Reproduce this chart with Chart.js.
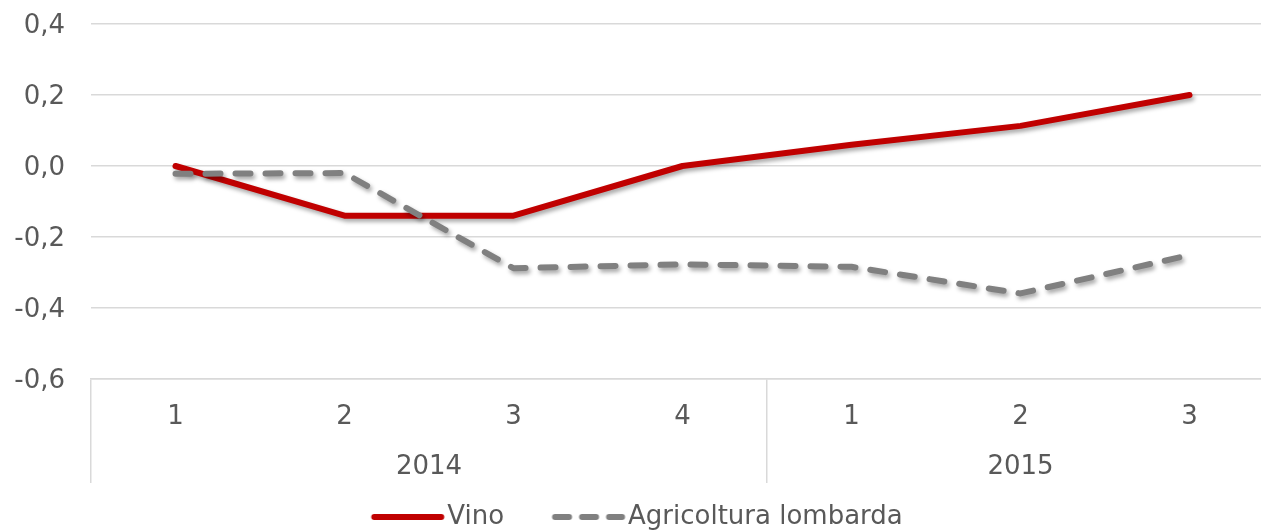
<!DOCTYPE html>
<html>
<head>
<meta charset="utf-8">
<script src="https://cdn.jsdelivr.net/npm/chart.js@4/dist/chart.umd.min.js"></script>
<style>
  html, body { margin: 0; padding: 0; overflow: hidden; background: #ffffff; }
  #wrap { width: 1274px; height: 532px; position: relative; }
</style>
</head>
<body>
<div id="wrap"><canvas id="c"></canvas></div>
<script>
// ---- data ----
const quarterLabels = ['1', '2', '3', '4', '1', '2', '3'];
const yearLabels = ['2014', '2015'];
const yearCounts = [4, 3];
const vino = [0.0, -0.14, -0.14, 0.0, 0.06, 0.113, 0.2];
const agricoltura = [-0.022, -0.02, -0.288, -0.277, -0.284, -0.359, -0.251];
const yTicks = [-0.6, -0.4, -0.2, 0.0, 0.2, 0.4];
const seriesNames = ['Vino', 'Agricoltura lombarda'];

// ---- derived axis positions (from the category groups) ----
const yearCenters = [];
const boundaries = [-0.5];
let start = 0;
yearCounts.forEach((n) => {
  yearCenters.push(start + (n - 1) / 2);
  start += n;
  boundaries.push(start - 0.5);
});
const xTickValues = Array.from(new Set([
  ...boundaries,
  ...quarterLabels.map((_, i) => i),
  ...yearCenters
])).sort((a, b) => a - b);

const TEXT = '#595959';
const GRID = '#d9d9d9';
const FONT = 'DejaVu Sans, Verdana, sans-serif';
const RED = '#c00000';
const GREY = '#808080';
const LINE_W = 6;
const BOX_W = 63;

// legend sample glyphs (line swatches), drawn slightly wider than the legend box
function swatch(color, dash) {
  const cv = document.createElement('canvas');
  cv.width = 100; cv.height = 12;
  const off = cv.width / 2 - BOX_W / 2;
  const g = cv.getContext('2d');
  g.strokeStyle = color; g.lineWidth = LINE_W; g.lineCap = 'round';
  g.setLineDash(dash);
  g.beginPath(); g.moveTo(off + 3, 6); g.lineTo(off + 70, 6); g.stroke();
  return cv;
}

const shadowPlugin = {
  id: 'lineShadow',
  beforeDatasetDraw(chart) {
    const c = chart.ctx;
    c.save();
    c.shadowColor = 'rgba(0,0,0,0.35)';
    c.shadowBlur = 4;
    c.shadowOffsetX = 2;
    c.shadowOffsetY = 3;
  },
  afterDatasetDraw(chart) { chart.ctx.restore(); }
};

const legendFit = {
  id: 'legendFit',
  beforeInit(chart) {
    const lg = chart.legend;
    if (!lg) return;
    const orig = lg.fit;
    lg.fit = function () { orig.call(this); this.height = 56; };
  },
  afterLayout(chart) {
    const lg = chart.legend;
    if (!lg) return;
    lg.top -= 20;   // pull the legend row up; keep its bottom at the canvas edge
  }
};

new Chart(document.getElementById('c'), {
  type: 'line',
  data: {
    datasets: [
      {
        label: seriesNames[0],
        data: vino.map((v, i) => ({ x: i, y: v })),
        borderColor: RED,
        backgroundColor: RED,
        borderWidth: LINE_W,
        borderCapStyle: 'round',
        borderJoinStyle: 'round',
        pointRadius: 0,
        pointStyle: swatch(RED, []),
        tension: 0,
        order: 1
      },
      {
        label: seriesNames[1],
        data: agricoltura.map((v, i) => ({ x: i, y: v })),
        borderColor: GREY,
        backgroundColor: GREY,
        borderWidth: LINE_W,
        borderDash: [15, 15],
        borderCapStyle: 'round',
        borderJoinStyle: 'round',
        pointRadius: 0,
        pointStyle: swatch(GREY, [14, 13]),
        tension: 0,
        order: 0
      }
    ]
  },
  options: {
    responsive: true,
    maintainAspectRatio: false,
    animation: false,
    devicePixelRatio: 1,
    layout: { padding: { top: 24, left: 0, right: 0, bottom: 0 } },
    scales: {
      x: {
        type: 'linear',
        min: -0.5,
        max: 6.5,
        afterBuildTicks: (scale) => { scale.ticks = xTickValues.map(v => ({ value: v })); },
        afterFit: (scale) => { scale.height = 97; },
        border: { display: true, color: GRID, width: 1.5 },
        grid: {
          drawOnChartArea: false,
          drawTicks: true,
          tickLength: 104,
          lineWidth: 1.5,
          color: (ctx) => (ctx.tick && boundaries.includes(ctx.tick.value)) ? GRID : 'rgba(0,0,0,0)'
        },
        ticks: {
          autoSkip: false,
          maxRotation: 0,
          padding: -91,
          color: TEXT,
          font: { family: FONT, size: 26, lineHeight: 50 / 26 },
          callback: (value) => {
            const yi = yearCenters.indexOf(value);
            const q = Number.isInteger(value) ? quarterLabels[value] : '';
            if (yi >= 0) return [q, yearLabels[yi]];
            return q;
          }
        }
      },
      y: {
        min: yTicks[0],
        max: yTicks[yTicks.length - 1],
        afterBuildTicks: (scale) => { scale.ticks = yTicks.map(v => ({ value: v })); },
        afterFit: (scale) => { scale.width = 91; },
        border: { display: false },
        grid: { color: GRID, lineWidth: 1.5, drawTicks: true, tickLength: 26, tickColor: 'rgba(0,0,0,0)' },
        ticks: {
          padding: 0,
          labelOffset: 2,
          color: TEXT,
          font: { family: FONT, size: 26 },
          callback: (v) => (Math.abs(v) < 1e-9 ? 0 : v).toFixed(1).replace('.', ',')
        }
      }
    },
    plugins: {
      legend: {
        position: 'bottom',
        labels: {
          usePointStyle: true,
          pointStyleWidth: BOX_W,
          padding: 48,
          color: TEXT,
          font: { family: FONT, size: 26 },
          sort: (a, b) => a.datasetIndex - b.datasetIndex
        }
      },
      tooltip: { enabled: false }
    }
  },
  plugins: [shadowPlugin, legendFit]
});
</script>
</body>
</html>
